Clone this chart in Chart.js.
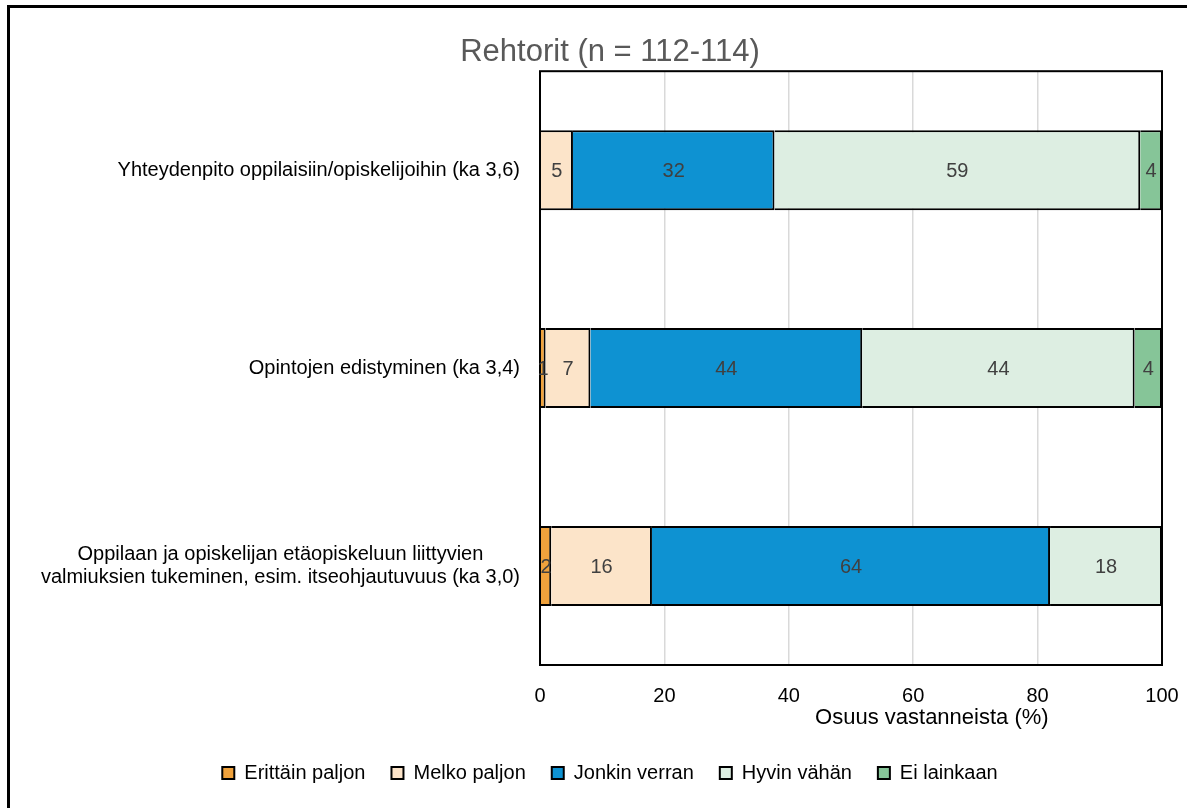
<!DOCTYPE html>
<html>
<head>
<meta charset="utf-8">
<script src="https://cdn.jsdelivr.net/npm/chart.js@4/dist/chart.umd.min.js"></script>
<style>
  body { margin: 0; background: #fff; }
  .wrap { position: relative; width: 1187px; height: 808px; overflow: hidden; }
  .frame { position: absolute; left: 7px; top: 5px; right: -10px; bottom: -10px;
           border-top: 3px solid #000; border-left: 3px solid #000; pointer-events: none; }
  canvas { position: absolute; left: 0; top: 0; }
</style>
</head>
<body>
<div class="wrap">
  <canvas id="chart" width="1187" height="808"></canvas>
  <div class="frame"></div>
</div>
<script>
// categories (multi-line label as an array)
var categories = [
  "Yhteydenpito oppilaisiin/opiskelijoihin (ka 3,6)",
  "Opintojen edistyminen (ka 3,4)",
  ["Oppilaan ja opiskelijan etäopiskeluun liittyvien", "valmiuksien tukeminen, esim. itseohjautuvuus (ka 3,0)"]
];

var seriesNames = ["Erittäin paljon", "Melko paljon", "Jonkin verran", "Hyvin vähän", "Ei lainkaan"];

// shares in %
var erittainPaljon = [0, 0.9, 1.8];
var melkoPaljon = [5.3, 7.2, 16.2];
var jonkinVerran = [32.4, 43.7, 64.0];
var hyvinVahan = [58.8, 43.8, 18.0];
var eiLainkaan = [3.5, 4.4, 0];

var xTicks = [0, 20, 40, 60, 80, 100];

var colors = ["#F0A23C", "#FCE4C9", "#0E92D2", "#DDEEE2", "#86C598"];
var fontFamily = "'Liberation Sans', Arial, sans-serif";

var seriesValues = [erittainPaljon, melkoPaljon, jonkinVerran, hyvinVahan, eiLainkaan];

var datasets = seriesValues.map(function (values, i) {
  return {
    label: seriesNames[i],
    data: values,
    backgroundColor: colors[i],
    borderColor: "#000",
    borderWidth: 2,
    borderSkipped: "start"
  };
});

// draws value labels, category labels, plot frame and x axis title
var decorations = {
  id: "decorations",
  afterDatasetsDraw: function (chart) {
    var ctx = chart.ctx;
    var area = chart.chartArea;
    var xScale = chart.scales.x;
    var yScale = chart.scales.y;

    // frame around the plot area
    ctx.save();
    ctx.strokeStyle = "#000";
    ctx.lineWidth = 2;
    ctx.strokeRect(area.left, area.top, area.right - area.left, area.bottom - area.top);
    ctx.restore();

    // value labels
    ctx.save();
    ctx.font = "20px " + fontFamily;
    ctx.fillStyle = "#404040";
    ctx.textAlign = "center";
    ctx.textBaseline = "middle";
    chart.data.datasets.forEach(function (ds, di) {
      var meta = chart.getDatasetMeta(di);
      meta.data.forEach(function (bar, i) {
        var v = ds.data[i];
        if (!v) return;
        ctx.fillText(String(Math.round(v)), (bar.x + bar.base) / 2, bar.y + 1);
      });
    });
    ctx.restore();

    // category labels: lines centred, block right aligned
    ctx.save();
    ctx.font = "20px " + fontFamily;
    ctx.fillStyle = "#000";
    ctx.textAlign = "center";
    ctx.textBaseline = "middle";
    var lineHeight = 23;
    var rightEdge = area.left - 20;
    categories.forEach(function (label, i) {
      var lines = Array.isArray(label) ? label : [label];
      var widest = 0;
      lines.forEach(function (l) { widest = Math.max(widest, ctx.measureText(l).width); });
      var y = yScale.getPixelForTick(i);
      var top = y - (lines.length - 1) * lineHeight / 2;
      lines.forEach(function (l, k) {
        ctx.fillText(l, rightEdge - widest / 2, top + k * lineHeight);
      });
    });
    ctx.restore();

    // x axis title
    ctx.save();
    ctx.font = "22px " + fontFamily;
    ctx.fillStyle = "#000";
    ctx.textAlign = "center";
    ctx.textBaseline = "middle";
    ctx.fillText("Osuus vastanneista (%)", xScale.getPixelForValue(63), area.bottom + 53);
    ctx.restore();
  }
};

var ctx = document.getElementById("chart").getContext("2d");
var chart = new Chart(ctx, {
  type: "bar",
  data: {
    labels: categories,
    datasets: datasets
  },
  options: {
    indexAxis: "y",
    responsive: false,
    animation: false,
    layout: { padding: { left: 58, right: 25, top: 0, bottom: 15 } },
    datasets: {
      bar: { barPercentage: 0.404, categoryPercentage: 1 }
    },
    scales: {
      x: {
        stacked: true,
        min: 0,
        max: 100,
        afterBuildTicks: function (scale) {
          scale.ticks = xTicks.map(function (v) { return { value: v }; });
        },
        afterFit: function (scale) {
          scale.height = 72;
          scale.paddingLeft = 0;
          scale.paddingRight = 0;
        },
        grid: { color: "#d9d9d9", lineWidth: 1.5, drawTicks: false },
        border: { display: false },
        ticks: {
          padding: 19,
          color: "#000",
          font: { family: fontFamily, size: 20 }
        }
      },
      y: {
        stacked: true,
        afterFit: function (scale) { scale.width = 482; },
        grid: { display: false },
        border: { display: false },
        ticks: { display: false }
      }
    },
    plugins: {
      title: {
        display: true,
        text: "Rehtorit (n = 112-114)",
        color: "#595959",
        font: { family: fontFamily, size: 31, weight: "normal" },
        padding: { top: 34, bottom: 0 }
      },
      legend: {
        position: "bottom",
        labels: {
          color: "#000",
          boxWidth: 12,
          boxHeight: 12,
          padding: 26,
          font: { family: fontFamily, size: 20 }
        }
      },
      tooltip: { enabled: false }
    }
  },
  plugins: [decorations]
});
</script>
</body>
</html>
